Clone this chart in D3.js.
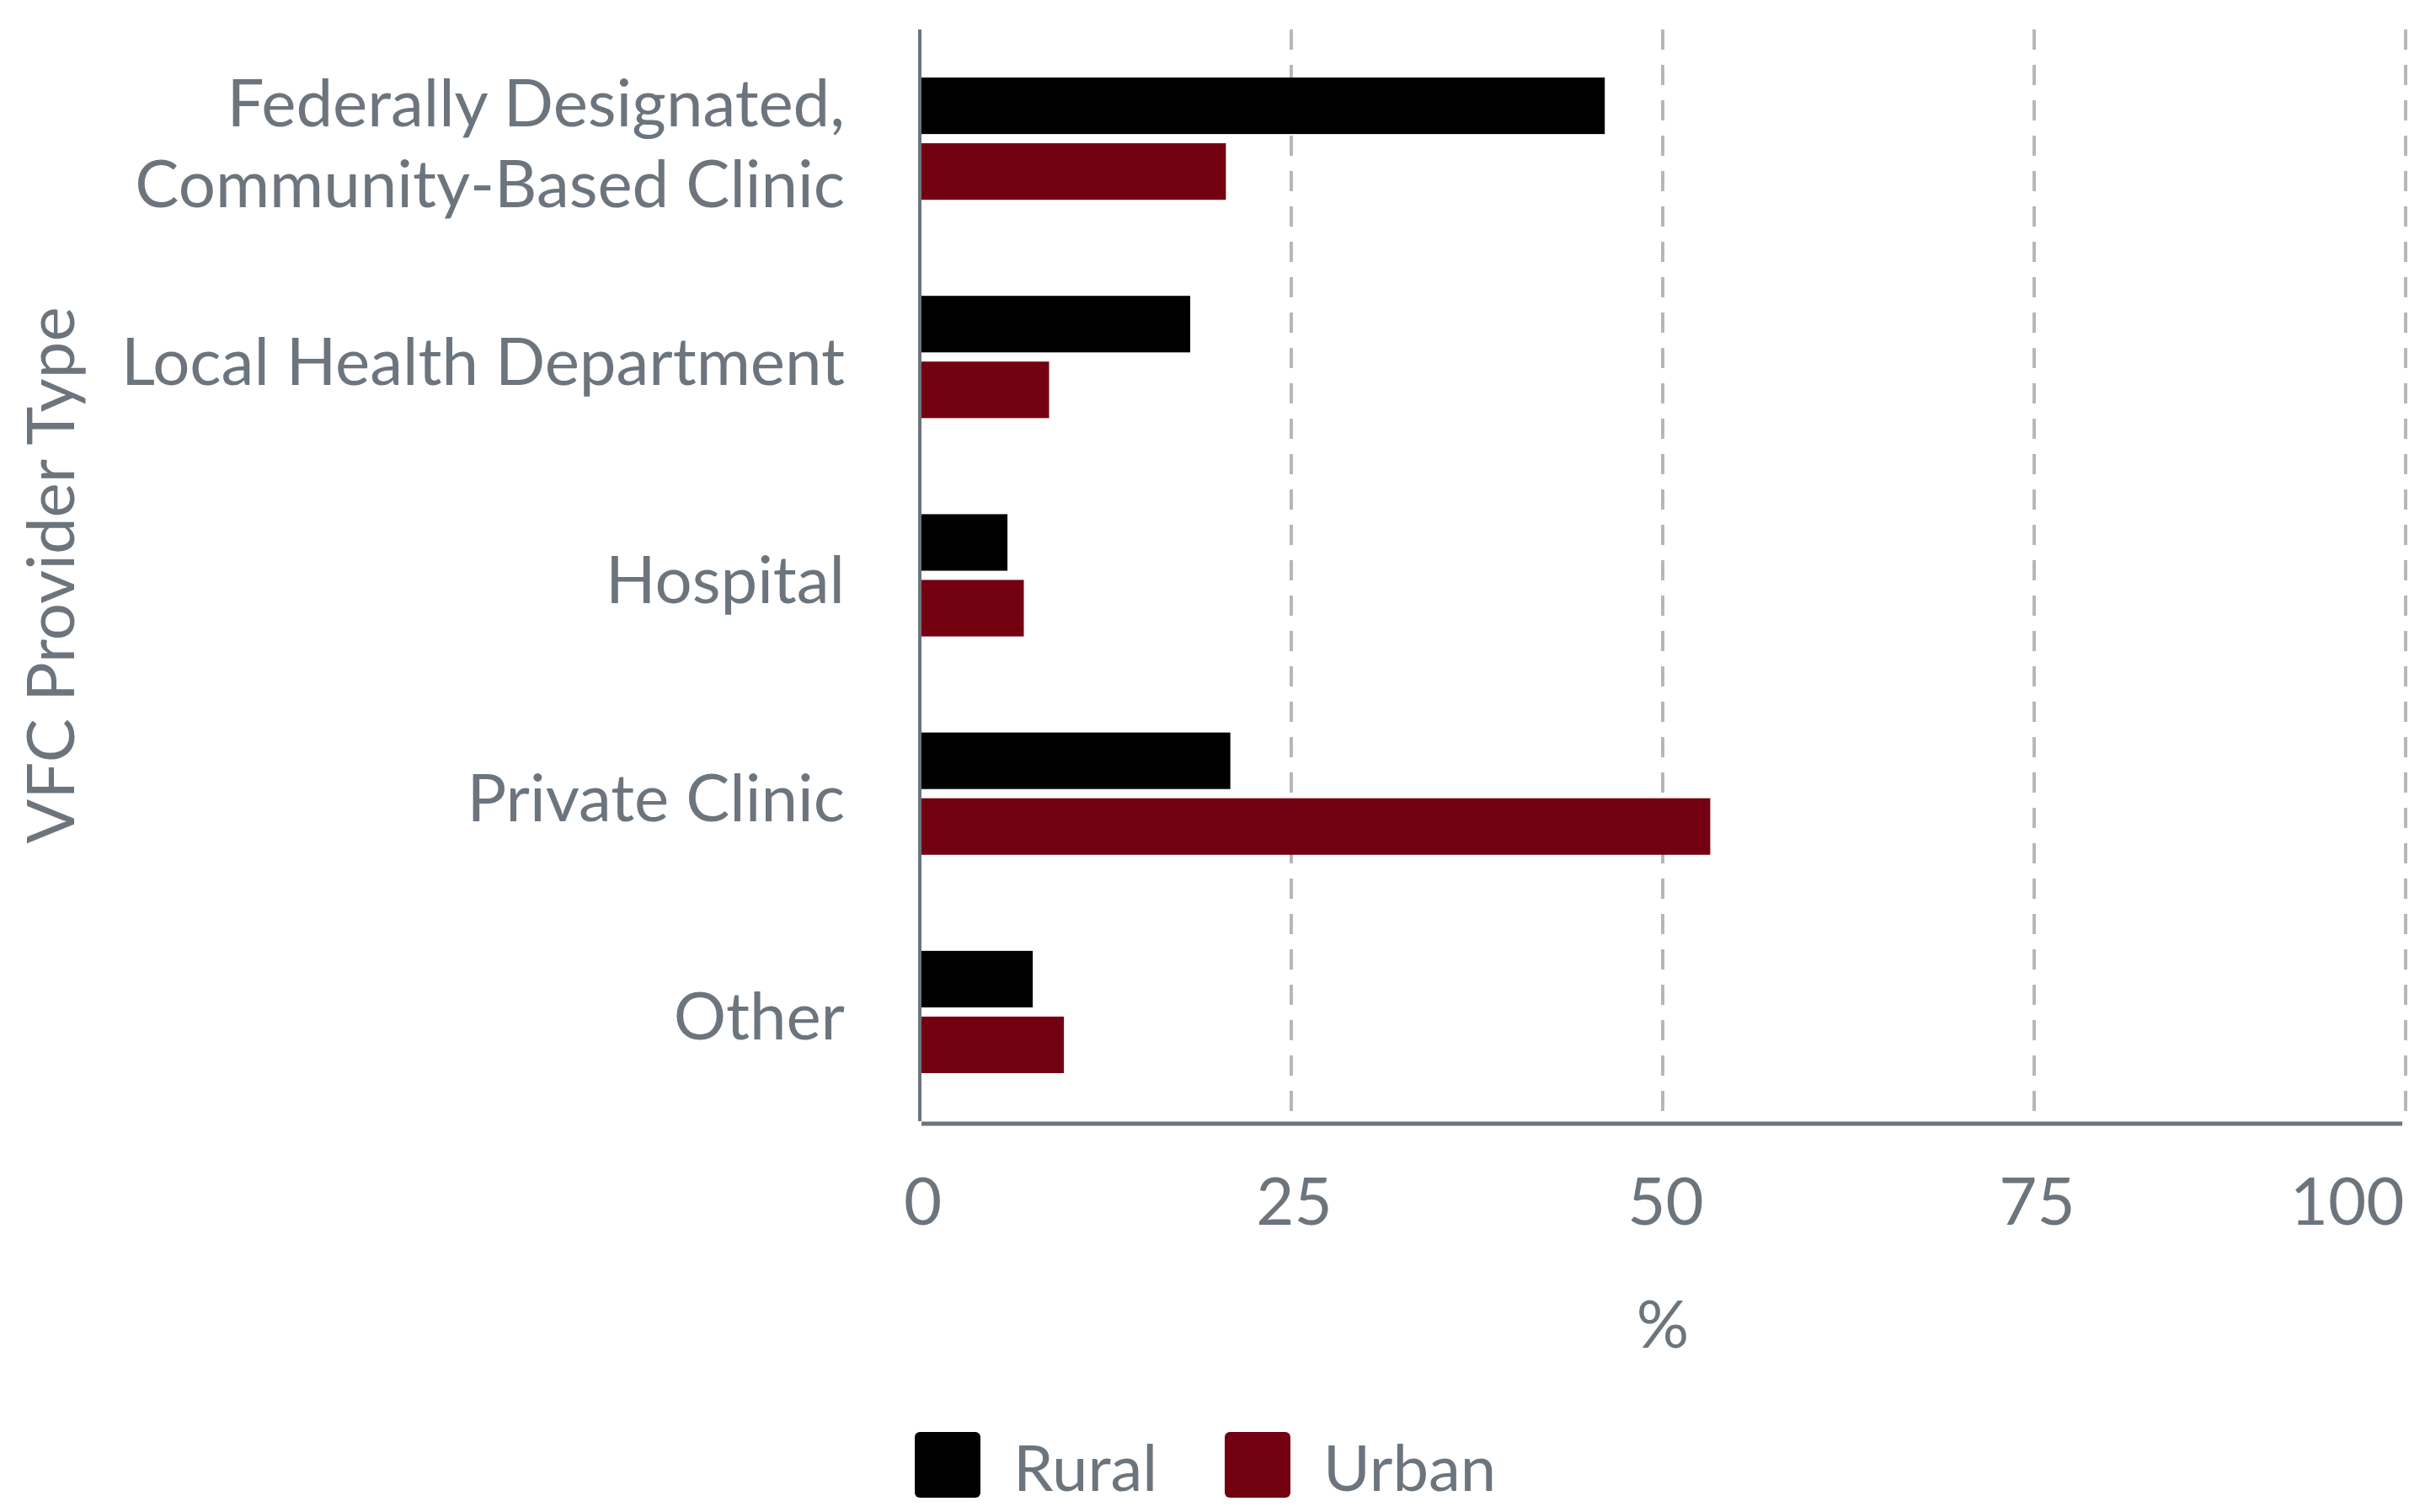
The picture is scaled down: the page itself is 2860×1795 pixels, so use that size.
<!DOCTYPE html>
<html>
<head>
<meta charset="utf-8">
<script src="https://cdn.jsdelivr.net/npm/d3@7"></script>
<style>
  html, body { margin: 0; padding: 0; background: #fff; }
  svg { display: block; font-family: Lato, 'Open Sans', sans-serif; }
</style>
</head>
<body>
<svg id="chart" width="2860" height="1795"></svg>
<script>
// data
var categories = ['Federally Designated, Community-Based Clinic', 'Local Health Department', 'Hospital', 'Private Clinic', 'Other']
var tickLabels = [['Federally Designated,', 'Community-Based Clinic'], ['Local Health Department'], ['Hospital'], ['Private Clinic'], ['Other']]
var series = ['Rural', 'Urban']
var rural = [46.1, 18.2, 5.9, 20.9, 7.6]
var urban = [20.6, 8.7, 7.0, 53.2, 9.7]
var xTicks = [0, 25, 50, 75, 100]
var colors = ['#000000', '#730010']

var textColor = '#6c757d'
var fontSize = 78

// Set the dimensions of the plot area
var margin = {top: 35, right: 4, bottom: 464, left: 1092}
var width = 2860 - margin.left - margin.right
var height = 1795 - margin.top - margin.bottom

var svg = d3.select('#chart')
var g = svg.append('g')
  .attr('transform', 'translate(' + margin.left + ',' + margin.top + ')')

// scales
var x = d3.scaleLinear().domain([0, 100]).range([0, width])
var y = d3.scaleBand().domain(categories).range([0, height])
  .paddingInner(0.44).paddingOuter(0.22)
var ySub = d3.scaleBand().domain(series).range([0, y.bandwidth()]).paddingInner(0.14)
var color = d3.scaleOrdinal().domain(series).range(colors)

// dashed grid lines
g.append('g').selectAll('line')
  .data(xTicks.filter(function (d) { return d > 0 }))
  .enter().append('line')
  .attr('x1', function (d) { return x(d) })
  .attr('x2', function (d) { return x(d) })
  .attr('y1', 0)
  .attr('y2', height - 10)
  .attr('stroke', '#b5b7ba')
  .attr('stroke-width', 4)
  .attr('stroke-dasharray', '24,18')

// bars
var rows = categories.map(function (c, i) {
  return {cat: c, values: [{s: 'Rural', v: rural[i]}, {s: 'Urban', v: urban[i]}]}
})
var groups = g.append('g').selectAll('g')
  .data(rows)
  .enter().append('g')
  .attr('transform', function (d) { return 'translate(0,' + y(d.cat) + ')' })
groups.selectAll('rect')
  .data(function (d) { return d.values })
  .enter().append('rect')
  .attr('x', x(0))
  .attr('y', function (d) { return ySub(d.s) })
  .attr('width', function (d) { return x(d.v) - x(0) })
  .attr('height', ySub.bandwidth())
  .attr('fill', function (d) { return color(d.s) })

// x axis
var xAxisG = g.append('g')
  .attr('transform', 'translate(0,' + (height + 3) + ')')
  .call(d3.axisBottom(x).tickValues(xTicks).tickSize(0).tickFormat(d3.format('d')))
xAxisG.select('.domain').attr('stroke', textColor).attr('stroke-width', 5)
  .attr('d', 'M2,0H' + (width - 4))
xAxisG.selectAll('text')
  .attr('y', 120)
  .attr('dy', 0)
  .attr('fill', textColor)
  .attr('font-size', fontSize)
  .attr('font-family', 'Lato')
  .attr('text-anchor', function (d) { return d === 100 ? 'end' : 'middle' })
  .attr('dx', function (d) { return d === 100 ? -2 : 3 })

// y axis
var yAxisG = g.append('g')
  .call(d3.axisLeft(y).tickSize(0).tickFormat(''))
yAxisG.select('.domain').attr('stroke', textColor).attr('stroke-width', 4)
  .attr('d', 'M0,0V' + height)
yAxisG.selectAll('.tick text').remove()
yAxisG.selectAll('.tick').each(function (d, i) {
  var lines = tickLabels[i]
  var t = d3.select(this).append('text')
    .attr('fill', textColor)
    .attr('font-size', fontSize)
    .attr('font-family', 'Lato')
    .attr('text-anchor', 'end')
    .attr('x', -89)
  lines.forEach(function (l, k) {
    t.append('tspan')
      .attr('x', -89)
      .attr('y', 33 + (k - (lines.length - 1) / 2) * 96)
      .text(l)
  })
})

// axis titles
svg.append('text')
  .attr('x', margin.left + x(50))
  .attr('y', 1600)
  .attr('text-anchor', 'middle')
  .attr('fill', textColor)
  .attr('font-size', fontSize)
  .text('%')

svg.append('text')
  .attr('transform', 'translate(88,' + (margin.top + height / 2) + ') rotate(-90)')
  .attr('text-anchor', 'middle')
  .attr('fill', textColor)
  .attr('font-size', fontSize)
  .text('VFC Provider Type')

// legend
var legend = svg.append('g').attr('transform', 'translate(1086,1700)')
var legendX = [0, 368]
series.forEach(function (s, i) {
  var item = legend.append('g').attr('transform', 'translate(' + legendX[i] + ',0)')
  item.append('rect')
    .attr('width', 78).attr('height', 78)
    .attr('rx', 6).attr('ry', 6)
    .attr('fill', color(s))
  item.append('text')
    .attr('x', 117)
    .attr('y', 70)
    .attr('fill', textColor)
    .attr('font-size', 76)
    .text(s)
})
</script>
</body>
</html>
